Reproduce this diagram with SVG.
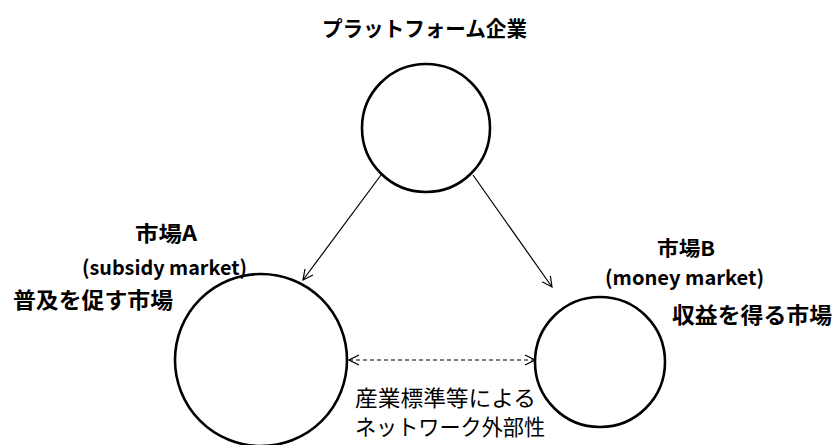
<svg xmlns="http://www.w3.org/2000/svg" width="833" height="445" viewBox="0 0 833 445">
<style>
.node{fill:#fff;stroke:#000;stroke-width:2.6}
.b{font-family:"Noto Sans CJK JP","Noto Sans",sans-serif;font-weight:bold;fill:#000}
.r{font-family:"Noto Sans CJK JP","Noto Sans",sans-serif;font-weight:normal;fill:#000}
.conn{stroke:#000;stroke-width:1.2;fill:none}
</style>
<defs>
<marker id="ah" viewBox="0 0 12 12" refX="11" refY="6" markerWidth="12" markerHeight="12" markerUnits="userSpaceOnUse" orient="auto-start-reverse">
<path d="M1,1 L11,6 L1,11" fill="none" stroke="#000" stroke-width="1.2"/>
</marker>
</defs>
<rect width="833" height="445" fill="#fff"/>
<g id="connectors">
<line class="conn" x1="381" y1="175" x2="303" y2="280" marker-end="url(#ah)"/>
<line class="conn" x1="473" y1="175" x2="552" y2="287" marker-end="url(#ah)"/>
<line class="conn" x1="349" y1="360" x2="535" y2="360" stroke-dasharray="4,3" marker-start="url(#ah)" marker-end="url(#ah)"/>
</g>
<g id="platform">
<circle class="node" cx="426" cy="128" r="64"/>
<text class="b" x="322" y="36" font-size="21" textLength="205" lengthAdjust="spacingAndGlyphs">プラットフォーム企業</text>
</g>
<g id="marketA">
<circle class="node" cx="261" cy="360" r="86"/>
<text class="b" x="135" y="241" font-size="21" textLength="62" lengthAdjust="spacingAndGlyphs">市場A</text>
<text class="b" x="82" y="275" font-size="20" textLength="165" lengthAdjust="spacingAndGlyphs">(subsidy market)</text>
<text class="b" x="13" y="308" font-size="22" textLength="160" lengthAdjust="spacingAndGlyphs">普及を促す市場</text>
</g>
<g id="marketB">
<circle class="node" cx="600" cy="362" r="65"/>
<text class="b" x="657" y="256" font-size="20" textLength="58" lengthAdjust="spacingAndGlyphs">市場B</text>
<text class="b" x="605" y="285" font-size="20" textLength="159" lengthAdjust="spacingAndGlyphs">(money market)</text>
<text class="b" x="672" y="323" font-size="22" textLength="160" lengthAdjust="spacingAndGlyphs">収益を得る市場</text>
</g>
<g id="network-label">
<text class="r" x="355" y="406" font-size="22" textLength="181" lengthAdjust="spacingAndGlyphs">産業標準等による</text>
<text class="r" x="355" y="435" font-size="22" textLength="190" lengthAdjust="spacingAndGlyphs">ネットワーク外部性</text>
</g>
</svg>
